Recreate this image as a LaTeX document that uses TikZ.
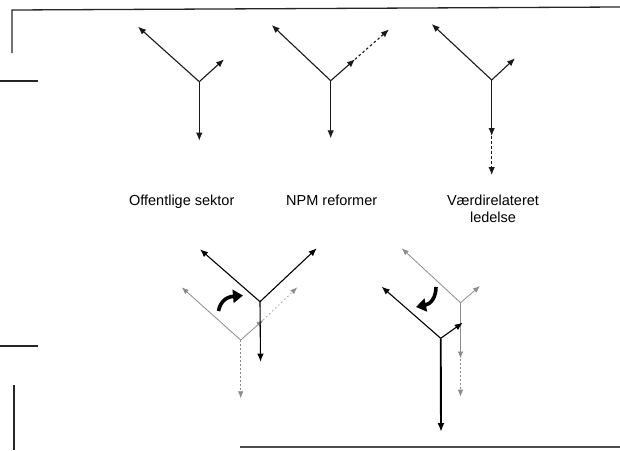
\documentclass[tikz,border=0pt]{standalone}
\usepackage{fontspec}
\setmainfont{Liberation Sans}
\usetikzlibrary{arrows.meta}
\begin{document}
\begin{tikzpicture}[x=1pt,y=-1pt,
  frame/.style={line width=1.3pt, black!85},
  arm/.style={line width=1.1pt, black!90, -{Latex[length=8pt,width=6.5pt]}},
  dasharm/.style={arm, dash pattern=on 2.5pt off 2.5pt},
  boldarm/.style={arm, line width=1.9pt, -{Latex[length=9pt,width=7pt]}},
  ghost/.style={line width=0.8pt, black!45, -{Latex[length=7pt,width=5.5pt]}},
  ghostdash/.style={ghost, dash pattern=on 2pt off 2pt},
  ghostdot/.style={ghost, dash pattern=on 1.2pt off 3pt},
  turn/.style={line width=3.6pt, line cap=butt, -{Triangle[length=10pt,width=13pt]}},
  lbl/.style={font=\fontsize{14.5}{17}\selectfont, text=black, inner sep=0pt, align=center}
]
\useasboundingbox (0,0) rectangle (620,450);

% frame fragments
\coordinate (f1) at (12,53);
\coordinate (f2) at (12,10);
\coordinate (f3) at (620,7);
\coordinate (f4) at (0,81);
\coordinate (f5) at (38,81);
\coordinate (f6) at (0,346);
\coordinate (f7) at (38,346);
\coordinate (f8) at (14,385);
\coordinate (f9) at (14,450);
\coordinate (f10) at (240,447);
\coordinate (f11) at (620,447);
\draw[frame] (f1) -- (f2) -- (f3);
\draw[frame] (f4) -- (f5);
\draw[frame] (f6) -- (f7);
\draw[frame] (f8) -- (f9);
\draw[frame, black!70] (f10) -- (f11);

% public sector
\coordinate (J1) at (199.3,81.7);
\coordinate (A1) at (138,26.7);
\coordinate (B1) at (224,59.3);
\coordinate (C1) at (199.3,140.7);
\draw[arm] (J1) -- (A1);
\draw[arm] (J1) -- (B1);
\draw[arm] (J1) -- (C1);

% NPM reforms
\coordinate (J2) at (330.7,80.7);
\coordinate (A2) at (271.7,25);
\coordinate (B2) at (355,59.3);
\coordinate (B2x) at (389,29.4);
\coordinate (C2) at (330.7,138.3);
\draw[arm] (J2) -- (A2);
\draw[arm] (J2) -- (B2);
\draw[dasharm] (B2) -- (B2x);
\draw[arm] (J2) -- (C2);

% value-based management
\coordinate (J3) at (491.7,80);
\coordinate (A3) at (431.7,24);
\coordinate (B3) at (515,58.3);
\coordinate (C3) at (491.7,136);
\coordinate (C3x) at (491.7,175);
\draw[arm] (J3) -- (A3);
\draw[arm] (J3) -- (B3);
\draw[arm] (J3) -- (C3);
\draw[dasharm] (C3) -- (C3x);

% labels
\node[lbl, anchor=base] (L1) at (181.7,205) {Offentlige sektor};
\node[lbl, anchor=base] (L2) at (331.7,205) {NPM reformer};
\node[lbl, anchor=base] (L3) at (493,205) {Værdirelateret};
\node[lbl, anchor=base] (L4) at (493,222) {ledelse};

% lower left: shift towards NPM
\coordinate (G4) at (240.7,340);
\coordinate (GA4) at (181.7,287.3);
\coordinate (GB4) at (263.3,320);
\coordinate (GB4x) at (297.3,287.3);
\coordinate (GC4) at (240.7,398.3);
\draw[ghost] (G4) -- (GA4);
\draw[ghost] (G4) -- (GB4);
\draw[ghostdot] (GB4) -- (GB4x);
\draw[ghostdash] (G4) -- (GC4);

\coordinate (J4) at (260,301.7);
\coordinate (A4) at (200,249.3);
\coordinate (B4) at (316.7,248.3);
\coordinate (C4) at (260.5,361.7);
\draw[arm, black] (J4) -- (A4);
\draw[arm, black] (J4) -- (B4);
\draw[arm, black] (J4) -- (C4);

\coordinate (T4) at (218.5,311);
\coordinate (H4) at (243,295.5);
\draw[turn] (T4) .. controls (220,303) and (225,297) .. (H4);

% lower right: shift towards value-based management
\coordinate (G5) at (460.5,302.7);
\coordinate (GA5) at (401.7,248.3);
\coordinate (GB5) at (480,286);
\coordinate (GC5) at (460.5,358.5);
\coordinate (GC5x) at (460.5,396.7);
\draw[ghost] (G5) -- (GA5);
\draw[ghost] (G5) -- (GB5);
\draw[ghost] (G5) -- (GC5);
\draw[ghostdash] (GC5) -- (GC5x);

\coordinate (J5) at (440.7,338.3);
\coordinate (A5) at (381.7,286.7);
\coordinate (B5) at (462.7,322.7);
\coordinate (C5) at (441,432);
\draw[arm, black] (J5) -- (A5);
\draw[arm, black] (J5) -- (B5);
\draw[boldarm, black] (J5) -- (C5);

\coordinate (T5) at (436,287);
\coordinate (H5) at (416,307);
\draw[turn] (T5) .. controls (436,297) and (431,304) .. (H5);
\end{tikzpicture}
\end{document}
